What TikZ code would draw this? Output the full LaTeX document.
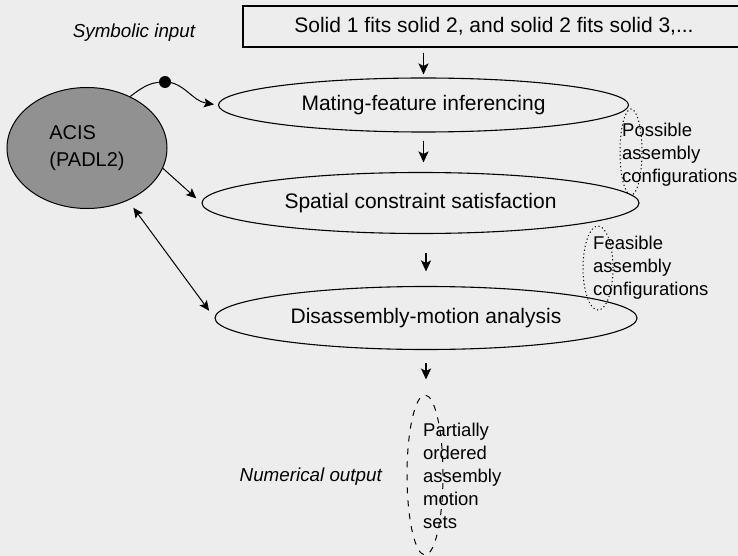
\documentclass[tikz,border=0pt]{standalone}
\usepackage{fontspec}
\setmainfont{Liberation Sans}
\usetikzlibrary{arrows.meta,shapes.geometric}
\definecolor{paper}{gray}{0.93}
\definecolor{acisgray}{gray}{0.57}
\begin{document}
\begin{tikzpicture}[x=1pt,y=-1pt,
        >={Stealth[length=10pt,width=9pt,inset=2pt]},
        stage/.style={ellipse,draw,line width=1.1pt,inner sep=0pt,font=\fontsize{21}{25}\selectfont},
        bundle/.style={ellipse,draw,line width=1pt,dash pattern=on 1.2pt off 2.6pt,inner sep=0pt},
        tag/.style={anchor=west,inner sep=0pt,align=left,font=\fontsize{18.5}{23}\selectfont},
        side/.style={inner sep=0pt,font=\fontsize{18.8}{22}\selectfont\itshape},
        flow/.style={-{Stealth[length=11pt,width=10pt,inset=2.5pt]},line width=1.7pt},
        link/.style={->,line width=1pt}]
    \fill[paper] (0,0) rectangle (738,556);
    \useasboundingbox (0,0) rectangle (738,556);

    \node[draw,line width=1.2pt,minimum width=502pt,minimum height=41pt,inner sep=0pt,
          font=\fontsize{21}{25}\selectfont] (input) at (494,26.5) {Solid 1 fits solid 2, and solid 2 fits solid 3,...};
    \node[side] (symb) at (134,33) {Symbolic input};

    \node[stage,minimum width=410pt,minimum height=54pt] (mating) at (423.5,105) {Mating-feature inferencing};
    \node[stage,minimum width=437pt,minimum height=61pt] (spatial) at (420.5,203) {Spatial constraint satisfaction};
    \node[stage,minimum width=422pt,minimum height=63pt] (disasm) at (426,318) {Disassembly-motion analysis};

    \node[ellipse,draw,fill=acisgray,line width=1pt,minimum width=160pt,minimum height=121pt,
          inner sep=0pt,align=left,font=\fontsize{20}{27}\selectfont] (acis) at (87,148) {ACIS\\(PADL2)};
    \node[circle,fill,minimum size=12pt,inner sep=0pt] (dot) at (165,82) {};

    \node[bundle,minimum width=22pt,minimum height=86pt] (poss) at (631,152) {};
    \node[tag] (posstext) at (622,155) {Possible\\assembly\\configurations};
    \node[bundle,minimum width=30pt,minimum height=84pt] (feas) at (598,268) {};
    \node[tag] (feastext) at (593,268) {Feasible\\assembly\\configurations};
    \node[bundle,dash pattern=on 6pt off 7pt,minimum width=36pt,minimum height=160pt] (part) at (425,475) {};
    \node[tag] (parttext) at (423,476) {Partially\\ordered\\assembly\\motion\\sets};
    \node[side,anchor=east] (numout) at (382,477) {Numerical output};

    \draw[flow,shorten <=5pt,shorten >=3pt] (input.south -| mating.north) -- (mating.north);
    \draw[flow,shorten <=8pt,shorten >=9.5pt] (mating.south) -- (mating.south |- spatial.north);
    \draw[flow,shorten <=18.5pt,shorten >=14.5pt] (spatial.south -| disasm.north) -- (disasm.north);
    \draw[flow,shorten <=12.5pt,shorten >=15pt] (disasm.south) -- (disasm.south |- part.north);

    \draw[link,shorten >=4pt] (acis.50) .. controls (145,85) and (152,82) .. (dot.center)
        .. controls (184,82) and (192,101) .. (mating.west);
    \draw[link,shorten >=7pt] (acis.-15) -- (spatial.west);
    \draw[link,<->,shorten <=9pt,shorten >=9pt] (acis.-52) -- (disasm.west);
\end{tikzpicture}
\end{document}
